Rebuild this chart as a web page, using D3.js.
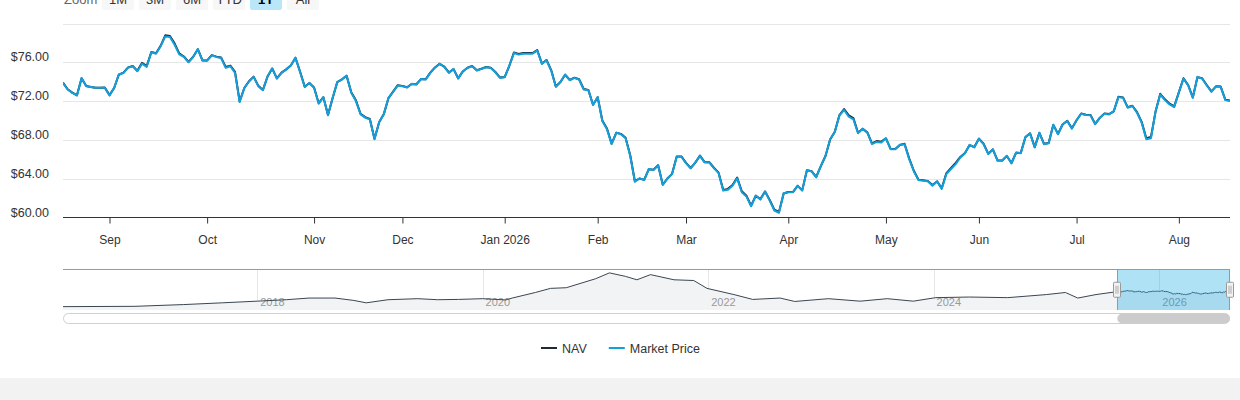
<!DOCTYPE html>
<html>
<head>
<meta charset="utf-8">
<script src="https://cdn.jsdelivr.net/npm/d3@7/dist/d3.min.js"></script>
<style>
  body { margin: 0; background: #fff; font-family: "Liberation Sans", Arial, sans-serif; }
  #chart { width: 1240px; height: 400px; }
</style>
</head>
<body>
<div id="chart"></div>
<script>
//////////////////////////////
/* - NAV / MARKET PRICE 1Y - */
//////////////////////////////

var startDate = "2025-08-18";
var endDate = "2026-08-18";
// market closed on these weekdays
var holidays = ["2025-09-01", "2025-11-27", "2025-12-25", "2026-01-01", "2026-01-19",
  "2026-02-16", "2026-04-03", "2026-05-25", "2026-06-19", "2026-07-03"];

// one value per trading day
var marketPrice = [
  73.88, 73.20, 72.85, 72.58, 74.39, 73.54, 73.45, 73.37, 73.37, 73.37,
  72.58, 73.37, 74.74, 74.90, 75.45, 75.59, 75.08, 75.86, 75.52, 77.03,
  76.89, 77.64, 78.67, 78.60, 77.81, 76.82, 76.55, 76.00, 76.55, 77.37,
  76.17, 76.17, 76.72, 76.55, 76.44, 75.42, 75.59, 74.91, 71.90, 73.37,
  74.02, 74.50,
  73.54, 73.13, 74.56, 75.38, 74.32, 74.91, 75.25, 75.66, 76.48, 74.97,
  73.44, 73.88, 73.37, 71.73, 72.41, 70.53, 72.34, 73.98, 74.22, 74.63,
  72.85, 72.00, 70.63, 70.29, 70.12, 68.07, 69.85, 70.63, 72.34, 72.96,
  73.61, 73.54, 73.40, 73.78, 73.71, 74.29, 74.22, 74.91, 75.45, 75.86,
  75.52, 74.91,
  75.32, 74.32, 75.08, 75.42, 75.59, 75.15, 75.32, 75.49, 75.42, 74.97,
  74.39, 74.46, 75.66, 76.96, 76.79, 76.89, 76.89, 76.89, 77.20, 75.83,
  76.21, 75.15, 73.47, 73.98, 74.74, 74.15, 74.39, 74.22, 73.20, 73.13,
  71.59, 72.41, 69.95, 69.09, 67.56, 68.75, 68.58, 68.17, 66.36, 63.69,
  64.03, 63.86,
  65.00, 64.89, 65.40, 63.35, 64.03, 64.48, 66.26, 66.26, 65.61, 65.06,
  65.68, 66.36, 65.68, 65.68, 65.09, 64.58, 62.77, 62.87, 63.28, 64.03,
  62.60, 62.15, 61.16, 62.26, 61.85, 62.70, 61.74, 60.72, 60.48, 62.50,
  62.60, 62.60, 63.28, 62.77, 64.89, 64.75, 64.14, 65.33, 66.36, 68.07,
  68.82, 70.53,
  71.08, 70.39, 70.12, 68.68, 69.16, 68.75, 67.56, 67.79, 67.73, 68.17,
  67.04, 67.04, 67.49, 67.56, 66.02, 64.75, 63.86, 63.80, 63.73, 63.28,
  63.73, 62.94, 64.48, 65.00, 65.50, 66.19, 66.63, 67.49, 67.22, 68.14,
  67.56, 66.53, 67.04, 65.85, 65.85, 66.36, 65.57, 66.70, 66.63, 68.31,
  68.65, 67.22, 68.75,
  67.56, 67.66, 69.57, 68.58, 69.61, 69.95, 69.16, 70.05, 70.70, 70.56,
  70.53, 69.61, 70.29, 70.70, 70.63, 70.97, 72.41, 72.34, 71.32, 71.49,
  70.80, 69.78, 68.07, 68.17, 70.97, 72.68, 72.10, 71.66, 71.38, 72.92,
  74.32, 73.61, 72.34, 74.50, 74.32, 73.61, 72.96, 73.54, 73.47, 72.10,
  72.00
];

var nav = [
  73.90, 73.22, 72.88, 72.60, 74.36, 73.56, 73.46, 73.38, 73.38, 73.39,
  72.62, 73.35, 74.72, 74.93, 75.47, 75.62, 75.12, 75.95, 75.60, 77.06,
  76.94, 77.70, 78.78, 78.72, 77.95, 76.92, 76.60, 76.04, 76.57, 77.35,
  76.20, 76.19, 76.74, 76.58, 76.50, 75.52, 75.66, 75.02, 71.98, 73.35,
  74.05, 74.52,
  73.58, 73.15, 74.54, 75.36, 74.35, 74.93, 75.27, 75.68, 76.46, 75.02,
  73.48, 73.86, 73.40, 71.78, 72.40, 70.58, 72.32, 73.96, 74.25, 74.60,
  72.92, 72.08, 70.70, 70.35, 70.16, 68.12, 69.82, 70.66, 72.30, 72.98,
  73.64, 73.56, 73.43, 73.76, 73.74, 74.27, 74.25, 74.93, 75.47, 75.84,
  75.56, 74.95,
  75.30, 74.36, 75.06, 75.44, 75.62, 75.18, 75.34, 75.51, 75.45, 75.00,
  74.43, 74.48, 75.64, 77.02, 76.86, 76.95, 76.95, 76.95, 77.27, 75.88,
  76.24, 75.20, 73.50, 73.96, 74.72, 74.18, 74.41, 74.25, 73.25, 73.15,
  71.62, 72.40, 70.00, 69.18, 67.62, 68.73, 68.62, 68.22, 66.42, 63.74,
  64.02, 63.88,
  64.98, 64.92, 65.38, 63.40, 64.02, 64.50, 66.28, 66.30, 65.64, 65.10,
  65.66, 66.38, 65.71, 65.70, 65.13, 64.62, 62.85, 62.95, 63.35, 64.12,
  62.70, 62.24, 61.22, 62.24, 61.90, 62.68, 61.80, 60.80, 60.58, 62.48,
  62.63, 62.62, 63.26, 62.82, 64.86, 64.78, 64.18, 65.30, 66.34, 68.05,
  68.85, 70.56,
  71.18, 70.52, 70.25, 68.74, 69.14, 68.78, 67.64, 67.88, 67.82, 68.15,
  67.08, 67.06, 67.47, 67.60, 66.10, 64.82, 63.90, 63.84, 63.76, 63.34,
  63.72, 63.02, 64.58, 65.10, 65.62, 66.24, 66.66, 67.47, 67.26, 68.12,
  67.60, 66.58, 67.02, 65.90, 65.88, 66.34, 65.62, 66.68, 66.66, 68.28,
  68.68, 67.26, 68.72,
  67.60, 67.68, 69.55, 68.62, 69.59, 69.98, 69.20, 70.03, 70.72, 70.60,
  70.56, 69.65, 70.27, 70.72, 70.66, 70.95, 72.44, 72.38, 71.36, 71.52,
  70.86, 69.86, 68.18, 68.30, 70.94, 72.75, 72.18, 71.74, 71.45, 72.90,
  74.35, 73.66, 72.38, 74.47, 74.36, 73.66, 73.00, 73.52, 73.50, 72.14,
  72.05
];

// navigator history before the 1Y window (sampled from the small chart)
var navHistoryDates = ["2016-04-12", "2016-12-01", "2017-05-08", "2017-09-10", "2018-01-01",
  "2018-04-05", "2018-06-18", "2018-09-10", "2018-11-10", "2018-12-20", "2019-03-01",
  "2019-06-05", "2019-08-08", "2019-10-15", "2020-01-01", "2020-03-16", "2020-04-06",
  "2020-06-20", "2020-08-08", "2020-09-28", "2020-11-15", "2021-01-01", "2021-02-15",
  "2021-04-08", "2021-05-15", "2021-06-28", "2021-09-12", "2021-11-15", "2021-12-28",
  "2022-03-25", "2022-05-25", "2022-08-22", "2022-10-08", "2023-01-25", "2023-05-08",
  "2023-08-04", "2023-10-27", "2024-01-08", "2024-04-26", "2024-08-28", "2025-01-01",
  "2025-03-03", "2025-04-12", "2025-06-10"];
var navHistoryValues = [9.6, 10.9, 18.4, 25.9, 33.0,
  39.2, 46.3, 46.3, 36.1, 25.9, 39.2,
  43.6, 39.2, 40.5, 43.6, 38.3, 46.3,
  70.1, 87.8, 90.5, 109.9, 128.9, 154.1,
  139.1, 124.5, 146.6, 124.5, 121.4, 87.8,
  61.3, 40.5, 46.3, 31.7, 43.6, 33.0,
  43.6, 33.0, 48.0, 50.7, 48.0, 61.3,
  70.1, 46.3, 61.3];

var yTicks = [60, 64, 68, 72, 76, 80];
var rangeButtons = ["1M", "3M", "6M", "YTD", "1Y", "All"];
var selectedButton = "1Y";
var seriesNames = ["NAV", "Market Price"];
var seriesColors = ["#1e2a36", "#129fdc"];

var width = 1240;
var height = 400;
var plot = { left: 63, right: 1230, top: 23.5, bottom: 217.5 };
var navPane = { top: 269.5, bottom: 310 };

var parseDay = d3.timeParse("%Y-%m-%d");
var fmtDay = d3.timeFormat("%Y-%m-%d");

//Trading calendar: weekdays minus market holidays
var tradingDays = d3.timeDay
  .range(parseDay(startDate), d3.timeDay.offset(parseDay(endDate), 1))
  .filter(function (d) {
    var wd = d.getDay();
    return wd !== 0 && wd !== 6 && holidays.indexOf(fmtDay(d)) < 0;
  });
var n = Math.min(tradingDays.length, marketPrice.length, nav.length);

var svg = d3
  .select("#chart")
  .append("svg")
  .attr("width", width)
  .attr("height", height)
  .style("font-family", '"Liberation Sans", Arial, sans-serif');

//grey footer band
svg.append("rect")
  .attr("x", 0).attr("y", 378)
  .attr("width", width).attr("height", height - 378)
  .attr("fill", "#f2f2f2");

//Range selector (mostly cut off at the top)
svg.append("text")
  .attr("x", 64).attr("y", 4)
  .attr("font-size", 13)
  .attr("fill", "#666")
  .text("Zoom");
var btn = svg.selectAll("g.btn")
  .data(rangeButtons)
  .enter()
  .append("g")
  .attr("class", "btn")
  .attr("transform", function (d, i) { return "translate(" + (102 + i * 37) + ",0)"; });
btn.append("rect")
  .attr("x", 0).attr("y", -13)
  .attr("width", 32).attr("height", 23)
  .attr("rx", 2)
  .attr("fill", function (d) { return d === selectedButton ? "#bae6f9" : "#f7f7f7"; });
btn.append("text")
  .attr("x", 16).attr("y", 4)
  .attr("text-anchor", "middle")
  .attr("font-size", 13)
  .attr("font-weight", function (d) { return d === selectedButton ? "bold" : "normal"; })
  .attr("fill", function (d) { return d === selectedButton ? "#000" : "#333"; })
  .text(function (d) { return d; });

//Main scales
var x = d3.scaleLinear().domain([0, n - 1]).range([plot.left, plot.right]);
var y = d3.scaleLinear().domain([60, 80]).range([plot.bottom, plot.top]);

//gridlines + y labels
svg.append("g")
  .selectAll("line")
  .data(yTicks.filter(function (d) { return d > 60; }))
  .enter()
  .append("line")
  .attr("x1", plot.left).attr("x2", plot.right)
  .attr("y1", function (d) { return Math.round(y(d)) + 0.5; })
  .attr("y2", function (d) { return Math.round(y(d)) + 0.5; })
  .attr("stroke", "#e6e6e6");

svg.append("g")
  .selectAll("text")
  .data(yTicks.filter(function (d) { return d < 80; }))
  .enter()
  .append("text")
  .attr("x", 49)
  .attr("y", function (d) { return y(d) - 1; })
  .attr("text-anchor", "end")
  .attr("font-size", 12.5)
  .attr("fill", "#333")
  .text(function (d) { return "$" + d.toFixed(2); });

//month ticks at first trading day of each month
var monthIdx = d3.range(1, n).filter(function (i) {
  return tradingDays[i].getMonth() !== tradingDays[i - 1].getMonth();
});
var xAxis = d3.axisBottom(x)
  .tickValues(monthIdx)
  .tickSize(6)
  .tickPadding(12)
  .tickFormat(function (i) {
    var d = tradingDays[i];
    return d.getMonth() === 0 ? d3.timeFormat("%b %Y")(d) : d3.timeFormat("%b")(d);
  });
var gx = svg.append("g")
  .attr("transform", "translate(0," + plot.bottom + ")")
  .call(xAxis);
gx.select(".domain").attr("stroke", "#333").attr("d", "M" + plot.left + ",0H" + plot.right);
gx.selectAll(".tick line").attr("stroke", "#333");
gx.selectAll(".tick text")
  .attr("font-size", 12)
  .attr("font-family", '"Liberation Sans", Arial, sans-serif')
  .attr("fill", "#333");

//lines
svg.append("clipPath").attr("id", "plot-clip")
  .append("rect")
  .attr("x", plot.left).attr("y", plot.top - 5)
  .attr("width", plot.right - plot.left).attr("height", plot.bottom - plot.top + 5);

var line = d3.line()
  .x(function (d, i) { return x(i); })
  .y(function (d) { return y(d); });

[nav, marketPrice].forEach(function (s, k) {
  svg.append("path")
    .datum(s.slice(0, n))
    .attr("clip-path", "url(#plot-clip)")
    .attr("d", line)
    .attr("fill", "none")
    .attr("stroke", seriesColors[k])
    .attr("stroke-width", 2)
    .attr("stroke-linejoin", "round");
});

//Navigator
var navDates = navHistoryDates.map(parseDay).concat(tradingDays.slice(0, n));
var navValues = navHistoryValues.concat(nav.slice(0, n));
var navData = navDates.map(function (d, i) { return { date: d, v: navValues[i] }; });

var ext = d3.extent(navValues);
var pad = (ext[1] - ext[0]) * 0.1;
var nx = d3.scaleTime()
  .domain([navDates[0], navDates[navDates.length - 1]])
  .range([plot.left, plot.right]);
var ny = d3.scaleLinear()
  .domain([ext[0] - pad, ext[1] + pad])
  .range([navPane.bottom, navPane.top]);

var yearTicks = nx.ticks(d3.timeYear.every(2));
svg.append("g")
  .selectAll("line")
  .data(yearTicks)
  .enter()
  .append("line")
  .attr("x1", function (d) { return Math.round(nx(d)) + 0.5; })
  .attr("x2", function (d) { return Math.round(nx(d)) + 0.5; })
  .attr("y1", navPane.top).attr("y2", navPane.bottom)
  .attr("stroke", "#e6e6e6");

svg.append("path")
  .datum(navData)
  .attr("d", d3.area()
    .x(function (d) { return nx(d.date); })
    .y0(navPane.bottom)
    .y1(function (d) { return ny(d.v); }))
  .attr("fill", "#f2f3f5");

svg.append("g")
  .selectAll("text")
  .data(yearTicks)
  .enter()
  .append("text")
  .attr("x", function (d) { return nx(d) + 3; })
  .attr("y", 306)
  .attr("font-size", 11)
  .attr("fill", "#999")
  .text(d3.timeFormat("%Y"));

svg.append("path")
  .datum(navData)
  .attr("d", d3.line()
    .x(function (d) { return nx(d.date); })
    .y(function (d) { return ny(d.v); }))
  .attr("fill", "none")
  .attr("stroke", "#3a4652")
  .attr("stroke-width", 1);

//selected 1Y window
var selLeft = nx(tradingDays[0]);
var selRight = nx(tradingDays[n - 1]);
svg.append("rect")
  .attr("x", selLeft).attr("y", navPane.top)
  .attr("width", selRight - selLeft)
  .attr("height", navPane.bottom - navPane.top)
  .attr("fill", "rgba(0,160,225,0.31)");

//outline
svg.append("path")
  .attr("d", "M" + plot.left + "," + navPane.top + "H" + plot.right +
    "M" + (Math.round(selLeft) + 0.5) + "," + navPane.top + "V" + navPane.bottom +
    "M" + (Math.round(selRight) - 0.5) + "," + navPane.top + "V" + navPane.bottom)
  .attr("stroke", "#999")
  .attr("fill", "none");

//handles
[selLeft, selRight].forEach(function (hx) {
  var cx = Math.round(hx);
  var g = svg.append("g").attr("transform", "translate(" + cx + "," + ((navPane.top + navPane.bottom) / 2) + ")");
  g.append("rect")
    .attr("x", -3.5).attr("y", -7.5)
    .attr("width", 7).attr("height", 15)
    .attr("rx", 1)
    .attr("fill", "#f2f2f2")
    .attr("stroke", "#999");
  g.append("path")
    .attr("d", "M-1,-4V4M1,-4V4")
    .attr("stroke", "#999")
    .attr("stroke-width", 0.8);
});

//scrollbar
svg.append("rect")
  .attr("x", plot.left + 0.5).attr("y", 313.5)
  .attr("width", plot.right - plot.left - 1).attr("height", 10)
  .attr("rx", 5)
  .attr("fill", "#fff")
  .attr("stroke", "#d0d0d0");
svg.append("rect")
  .attr("x", selLeft).attr("y", 313.5)
  .attr("width", selRight - selLeft).attr("height", 10)
  .attr("rx", 5)
  .attr("fill", "#cccccc");

//Legend
var legend = svg.append("g");
var lx = 0;
seriesNames.forEach(function (name, k) {
  var item = legend.append("g").attr("transform", "translate(" + lx + ",0)");
  item.append("line")
    .attr("x1", 0).attr("x2", 16)
    .attr("y1", 348).attr("y2", 348)
    .attr("stroke", seriesColors[k])
    .attr("stroke-width", 2);
  var t = item.append("text")
    .attr("x", 21).attr("y", 352.5)
    .attr("font-size", 12.5)
    .attr("fill", "#333")
    .text(name);
  lx += 21 + t.node().getComputedTextLength() + 22;
});
var legendWidth = lx - 22;
legend.attr("transform", "translate(" + Math.round(width / 2 - legendWidth / 2) + ",0)");
</script>
</body>
</html>
